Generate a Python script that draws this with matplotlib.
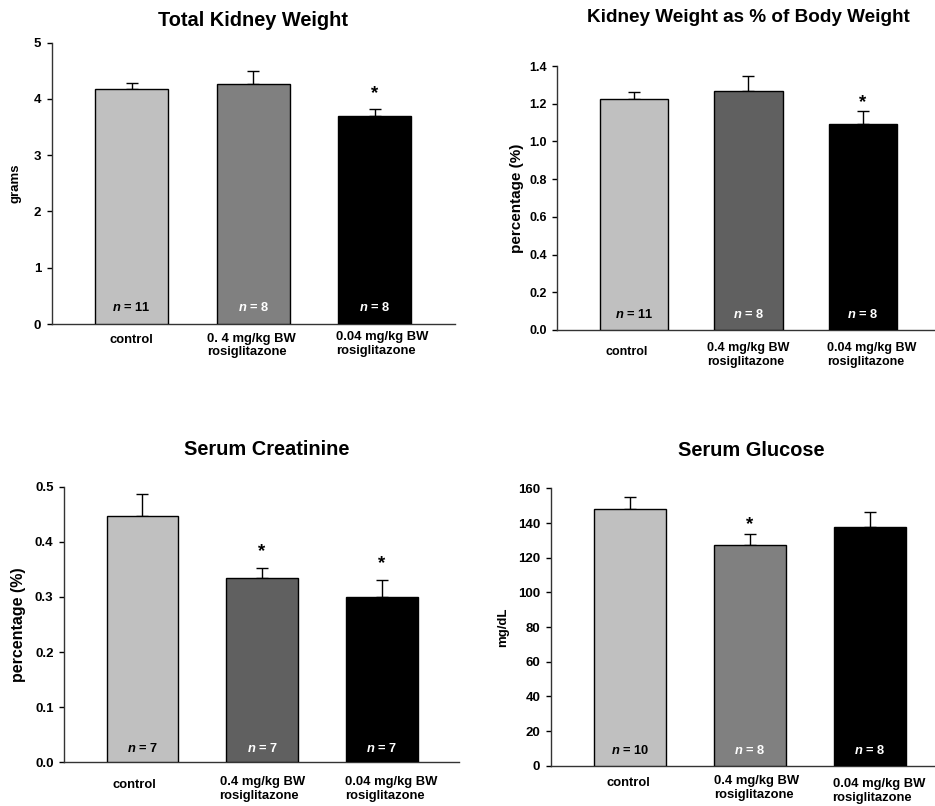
import matplotlib
matplotlib.use("Agg")
import matplotlib.pyplot as plt
import numpy as np

plt.rcParams['font.family'] = ['Liberation Sans', 'DejaVu Sans']
plt.rcParams['font.weight'] = 'bold'
plt.rcParams['mathtext.fontset'] = 'custom'
plt.rcParams['mathtext.it'] = 'Liberation Sans:italic:bold'
plt.rcParams['mathtext.rm'] = 'Liberation Sans:bold'

# ---------------- data ----------------
titles = ["Total Kidney Weight", "Kidney Weight as % of Body Weight",
          "Serum Creatinine", "Serum Glucose"]
ylabels = ["grams", "percentage (%)", "percentage (%)", "mg/dL"]

cats_kw = ["control", "0. 4 mg/kg BW\nrosiglitazone", "0.04 mg/kg BW\nrosiglitazone"]
cats = ["control", "0.4 mg/kg BW\nrosiglitazone", "0.04 mg/kg BW\nrosiglitazone"]

kidney_weight = [4.18, 4.27, 3.69]
kidney_weight_err = [0.11, 0.23, 0.13]
kidney_pct = [1.225, 1.267, 1.091]
kidney_pct_err = [0.039, 0.078, 0.069]
creatinine = [0.446, 0.334, 0.299]
creatinine_err = [0.040, 0.019, 0.032]
glucose = [147.9, 127.1, 137.5]
glucose_err = [7.1, 6.5, 8.7]

n_kw = [11, 8, 8]
n_pct = [11, 8, 8]
n_cr = [7, 7, 7]
n_glu = [10, 8, 8]

sig_kw = [False, False, True]
sig_pct = [False, False, True]
sig_cr = [False, True, True]
sig_glu = [False, True, False]

yticks_kw = [0, 1, 2, 3, 4, 5]
yticks_pct = [0.0, 0.2, 0.4, 0.6, 0.8, 1.0, 1.2, 1.4]
yticks_cr = [0.0, 0.1, 0.2, 0.3, 0.4, 0.5]
yticks_glu = [0, 20, 40, 60, 80, 100, 120, 140, 160]

# ---------------- style / layout ----------------
panels = [
    dict(vals=kidney_weight, err=kidney_weight_err, n=n_kw, sig=sig_kw, cats=cats_kw,
         yt=yticks_kw, fmt="{:.0f}", title=titles[0], ylabel=ylabels[0],
         colors=["#c0c0c0", "#808080", "#000000"],
         rect=[0.0553, 0.598, 0.4313, 0.349], xlim=(-0.657, 2.658),
         title_xy=(253, 20), title_size=14.4, ylab_x=16, ylab_size=9.5,
         tick_size=9.5, cat_size=9.4,
         catoff=[(0, 16), (-1.8, 21.5), (7.5, 20)], noff=17, staroff=18),
    dict(vals=kidney_pct, err=kidney_pct_err, n=n_pct, sig=sig_pct, cats=cats,
         yt=yticks_pct, fmt="{:.1f}", title=titles[1], ylabel=ylabels[1],
         colors=["#c0c0c0", "#606060", "#000000"],
         rect=[0.596, 0.5906, 0.409, 0.3275], xlim=(-0.67, 2.67),
         title_xy=(748, 17.3), title_size=13.6, ylab_x=516.7, ylab_size=11,
         tick_size=9, cat_size=9,
         catoff=[(-7.3, 21.7), (0, 25), (9, 25)], noff=15, staroff=11.5),
    dict(vals=creatinine, err=creatinine_err, n=n_cr, sig=sig_cr, cats=cats,
         yt=yticks_cr, fmt="{:.1f}", title=titles[2], ylabel=ylabels[2],
         colors=["#c0c0c0", "#606060", "#000000"],
         rect=[0.0684, 0.0542, 0.4225, 0.342], xlim=(-0.656, 2.646),
         title_xy=(266.7, 449.3), title_size=14.4, ylab_x=18.3, ylab_size=11.5,
         tick_size=9.5, cat_size=9.4,
         catoff=[(-8, 22.7), (0, 26.7), (9.3, 26.7)], noff=14, staroff=19),
    dict(vals=glucose, err=glucose_err, n=n_glu, sig=sig_glu, cats=cats,
         yt=yticks_glu, fmt="{:.0f}", title=titles[3], ylabel=ylabels[3],
         colors=["#c0c0c0", "#808080", "#000000"],
         rect=[0.589, 0.05, 0.4264, 0.344], xlim=(-0.66, 2.66),
         title_xy=(751, 450.7), title_size=14.4, ylab_x=503.3, ylab_size=9.5,
         tick_size=9.5, cat_size=9.4,
         catoff=[(-2, 17.6), (6.4, 22.3), (8.6, 25.6)], noff=15, staroff=12.5),
]

W, H = 935, 806
fig = plt.figure(figsize=(W / 100, H / 100), dpi=100)
px = 0.72  # points per pixel
STAR_PT = 13.5

for p in panels:
    ax = fig.add_axes(p["rect"])
    x = np.arange(len(p["vals"]))
    ax.bar(x, p["vals"], width=0.6, color=p["colors"], edgecolor="black",
           linewidth=1.0, zorder=3)
    ax.errorbar(x, p["vals"], yerr=[np.zeros(len(x)), p["err"]], fmt="none",
                ecolor="black", elinewidth=1.0, capsize=4.5, capthick=1.0, zorder=2)
    ax.set_xlim(*p["xlim"])
    ax.set_ylim(p["yt"][0], p["yt"][-1])
    ax.set_yticks(p["yt"])
    ax.set_yticklabels([p["fmt"].format(v) for v in p["yt"]], fontsize=p["tick_size"],
                       fontweight="bold")
    ax.set_xticks([])
    ax.tick_params(axis="y", direction="out", length=3.5, width=1, pad=4)
    for s in ["top", "right"]:
        ax.spines[s].set_visible(False)
    for s in ["left", "bottom"]:
        ax.spines[s].set_linewidth(1.0)
        ax.spines[s].set_color("#333333")

    for i in range(len(x)):
        # category label
        dx, dy = p["catoff"][i]
        ax.annotate(p["cats"][i], xy=(x[i], p["yt"][0]), xytext=(dx * px, -dy * px),
                    textcoords="offset points", ha="center", va="center",
                    multialignment="left", fontsize=p["cat_size"], fontweight="bold",
                    annotation_clip=False, linespacing=1.2)
        # n label
        tcol = "black" if i == 0 else "white"
        ax.annotate(r"$n$ = %d" % p["n"][i], xy=(x[i], p["yt"][0]),
                    xytext=(0, p["noff"] * px), textcoords="offset points",
                    ha="center", va="center", fontsize=9.3, fontweight="bold",
                    color=tcol, zorder=5)
        if p["sig"][i]:
            ax.annotate("*", xy=(x[i], p["vals"][i] + p["err"][i]),
                        xytext=(0, (p["staroff"] + 1.5) * px - 0.45 * STAR_PT),
                        textcoords="offset points",
                        ha="center", va="baseline", fontsize=STAR_PT,
                        fontweight="bold")

    fig.text(p["title_xy"][0] / W, 1 - p["title_xy"][1] / H, p["title"],
             ha="center", va="center", fontsize=p["title_size"], fontweight="bold")
    fig.text(p["ylab_x"] / W, p["rect"][1] + p["rect"][3] / 2, p["ylabel"],
             rotation=90, ha="center", va="center", fontsize=p["ylab_size"],
             fontweight="bold")

fig.savefig("out.png", dpi=100)
